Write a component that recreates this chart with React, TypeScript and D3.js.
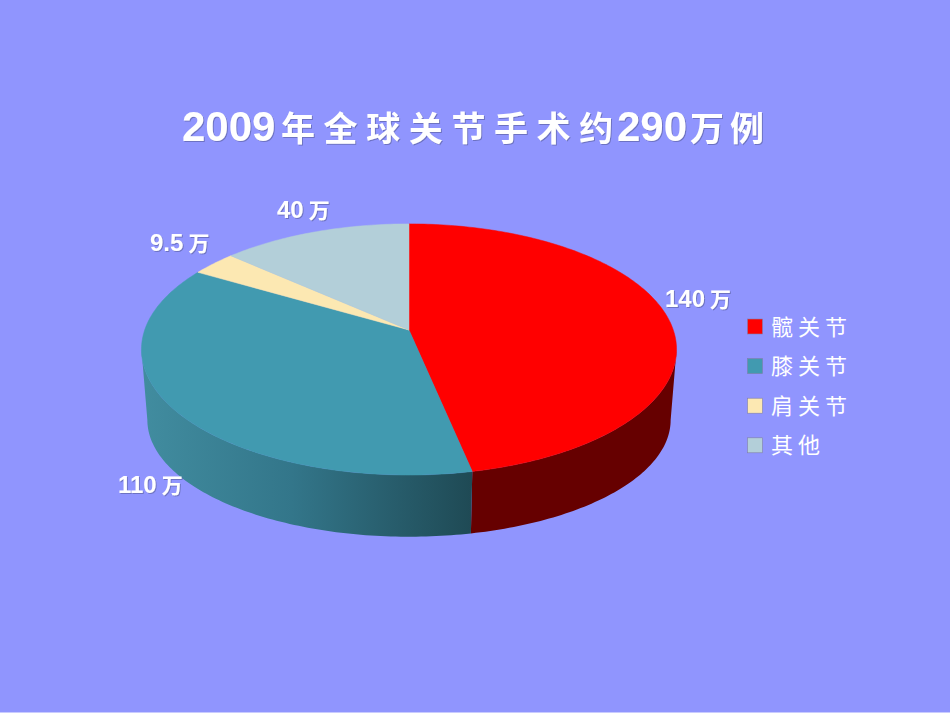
import { useMemo } from 'react'
import * as d3 from 'd3'

const categories = ['髋关节', '膝关节', '肩关节', '其他']
const values = [140, 110, 9.5, 40]
const valueTexts = ['140', '110', '9.5', '40']
const valueUnit = '万'
const topColors = ['#ff0000', '#419ab0', '#fce8b2', '#b3cfd9']
const sideColors = ['#660000', '#419ab0', '#fce8b2', '#b3cfd9']
const titleParts = ['2009', '年全球关节手术约', '290', '万例']

const width = 950
const height = 713
const bg = '#9095fe'
const fontStack = '"Liberation Sans", "Noto Sans CJK SC", sans-serif'

// layout, kept apart from the values
const titleX = [182, 281, 617, 690]
const labelPos: [number, number][] = [
	[665, 307],
	[118, 493],
	[150, 251],
	[277, 218],
]

// the pie is tilted with perspective: unit disc -> screen
const project = (u: number, v: number) => {
	const w = 1 - 0.155 * v
	return [409 + (264.3 * u) / w, (330 + 71.4 * v) / w]
}
const topPoint = (a: number) => project(Math.sin(a), -Math.cos(a))
// lower rim of the disc
const bottomPoint = (a: number) => {
	const [x, y] = topPoint(a)
	return [409 + (x - 409) * 0.978, 420 + (y - 349.5) * 0.93]
}

// angle where the rim is widest, the wall is only visible below it
const wallStart = Math.acos(-0.155)
const wallEnd = 2 * Math.PI - wallStart

const line = d3.line()

function arcPoints(fn: (a: number) => number[], a0: number, a1: number) {
	const n = Math.max(2, Math.ceil((a1 - a0) * 60))
	return d3.range(n + 1).map((i) => fn(a0 + ((a1 - a0) * i) / n)) as [number, number][]
}

export default function App() {
	const arcs = useMemo(() => d3.pie<number>().sort(null)(values), [])
	const centre = project(0, 0) as [number, number]

	return (
		<svg width={width} height={height} style={{ position: 'absolute', left: 0, top: 0 }} fontFamily={fontStack}>
			<defs>
				<linearGradient id="tealSide" gradientUnits="userSpaceOnUse" x1={145} x2={471} y1={0} y2={0}>
					<stop offset="0" stopColor="#418c9f" />
					<stop offset="0.45" stopColor="#33768a" />
					<stop offset="1" stopColor="#1f4a55" />
				</linearGradient>
				<filter id="shadow" x="-5%" y="-20%" width="110%" height="140%">
					<feDropShadow dx="1" dy="1" stdDeviation="0.5" floodColor="#555a99" floodOpacity="0.6" />
				</filter>
			</defs>
			<rect width={width} height={height} fill={bg} />
			<rect y={height - 1} width={width} height={1} fill="#c9cbff" />

			<g fill="#fff" fontWeight="bold" filter="url(#shadow)">
				{titleParts.map((t, i) => (
					<text
						key={t}
						x={titleX[i]}
						y={141}
						fontSize={i % 2 === 0 ? 42 : 34}
						letterSpacing={i % 2 === 0 ? 0 : i === 1 ? 8.6 : 6}
					>
						{t}
					</text>
				))}
			</g>

			{/* side wall, only the front part is visible */}
			{arcs.map((d, i) => {
				const a0 = Math.max(d.startAngle, wallStart)
				const a1 = Math.min(d.endAngle, wallEnd)
				if (a1 <= a0) return null
				const pts = [...arcPoints(topPoint, a0, a1), ...arcPoints(bottomPoint, a0, a1).reverse()]
				return <path key={i} d={line(pts) + 'Z'} fill={i === 1 ? 'url(#tealSide)' : sideColors[i]} />
			})}

			{/* top face */}
			{arcs.map((d, i) => {
				const pts = [centre, ...arcPoints(topPoint, d.startAngle, d.endAngle)]
				return <path key={i} d={line(pts) + 'Z'} fill={topColors[i]} stroke={topColors[i]} strokeWidth={0.5} />
			})}

			<g fill="#fff" fontWeight="bold" filter="url(#shadow)">
				{valueTexts.map((t, i) => (
					<text key={t} x={labelPos[i][0]} y={labelPos[i][1]} fontSize={24}>
						{t}
						<tspan fontSize={21} dx={5}>
							{valueUnit}
						</tspan>
					</text>
				))}
			</g>

			{categories.map((c, i) => {
				const y = 326.5 + i * 39.6
				return (
					<g key={c}>
						<rect x={747.5} y={y - 7.5} width={15} height={15} fill={topColors[i]} stroke="#7f7fa8" strokeWidth={0.6} />
						<text x={771} y={y + 8} fontSize={22} fill="#fff" letterSpacing={5}>
							{c}
						</text>
					</g>
				)
			})}
		</svg>
	)
}
